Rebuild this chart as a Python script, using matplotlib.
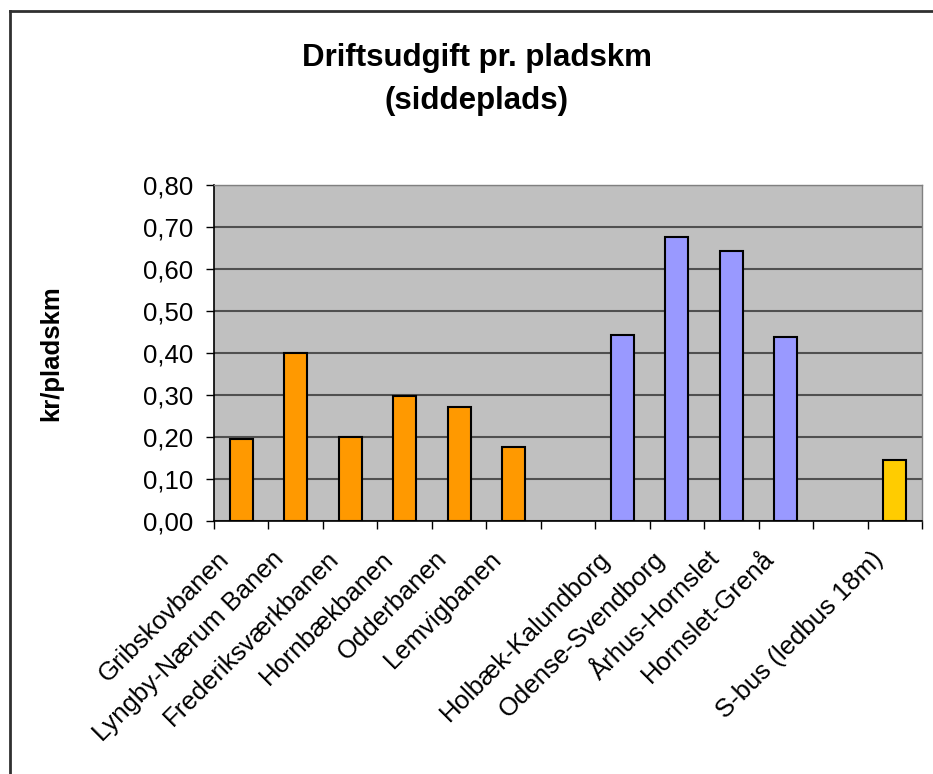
import numpy as np
import matplotlib.pyplot as plt
import matplotlib.transforms as mtransforms
from matplotlib.lines import Line2D

plt.rcParams['font.family'] = ['Liberation Sans', 'DejaVu Sans']

# ---------- Data ----------
categories = ['Gribskovbanen', 'Lyngby-Nærum Banen', 'Frederiksværkbanen',
              'Hornbækbanen', 'Odderbanen', 'Lemvigbanen', '',
              'Holbæk-Kalundborg', 'Odense-Svendborg', 'Århus-Hornslet',
              'Hornslet-Grenå', '', 'S-bus (ledbus 18m)']
values = [0.196, 0.399, 0.200, 0.298, 0.272, 0.177, np.nan,
          0.444, 0.676, 0.642, 0.437, np.nan, 0.146]
groups = ['lokal'] * 6 + [''] + ['regional'] * 4 + [''] + ['bus']
group_colors = {'lokal': '#FF9900', 'regional': '#9999FF', 'bus': '#FFCC00', '': 'none'}
yticks = [0.0, 0.1, 0.2, 0.3, 0.4, 0.5, 0.6, 0.7, 0.8]

# ---------- Figure ----------
fig = plt.figure(figsize=(9.33, 7.74), dpi=100, facecolor='white')
ax = fig.add_axes([214 / 933, 1 - 521 / 774, 708 / 933, 336 / 774])
ax.set_facecolor('#C0C0C0')

x = np.arange(len(categories))
colors = [group_colors[g] for g in groups]
ax.bar(x, values, width=0.42, color=colors, edgecolor='black', linewidth=1.5, zorder=3)

ax.set_xlim(-0.5, len(categories) - 0.5)
ax.set_ylim(0, 0.8)
ax.set_yticks(yticks)
ax.set_yticklabels([f"{v:.2f}".replace('.', ',') for v in yticks], fontsize=18.5)
ax.yaxis.grid(True, color='#505050', linewidth=1.5, zorder=1)
ax.set_axisbelow(True)

ax.set_xticks(x)
ax.set_xticklabels(categories, rotation=45, ha='right', va='top',
                   rotation_mode='anchor', fontsize=18.5)
ax.tick_params(axis='x', which='major', length=0, pad=18.5)
# shift rotated labels to the left like the original
shift = mtransforms.ScaledTranslation(-24 / 100, 0, fig.dpi_scale_trans)
for lbl in ax.get_xticklabels():
    lbl.set_transform(lbl.get_transform() + shift)
ax.set_xticks(np.arange(-0.5, len(categories)), minor=True)
ax.tick_params(axis='x', which='minor', length=6, width=1, color='black')
ax.tick_params(axis='y', length=6, width=1, pad=9)

for side in ['top', 'right']:
    ax.spines[side].set_color('#808080')
    ax.spines[side].set_linewidth(1)
ax.spines['left'].set_linewidth(1.2)
ax.spines['bottom'].set_linewidth(1.2)

ax.set_ylabel('kr/pladskm', fontsize=18.5, fontweight='bold', labelpad=57)

fig.text(477 / 933, 1 - 58 / 774, 'Driftsudgift pr. pladskm', ha='center', va='center',
         fontsize=22.5, fontweight='bold')
fig.text(477 / 933, 1 - 101 / 774, '(siddeplads)', ha='center', va='center',
         fontsize=22.5, fontweight='bold')

# outer chart border (top and left)
fig.add_artist(Line2D([10 / 933, 10 / 933], [0, 1 - 11 / 774], transform=fig.transFigure,
                      color='#303030', linewidth=2))
fig.add_artist(Line2D([10 / 933, 1], [1 - 11 / 774, 1 - 11 / 774], transform=fig.transFigure,
                      color='#303030', linewidth=2))

fig.savefig('out.png', dpi=100, facecolor='white')
